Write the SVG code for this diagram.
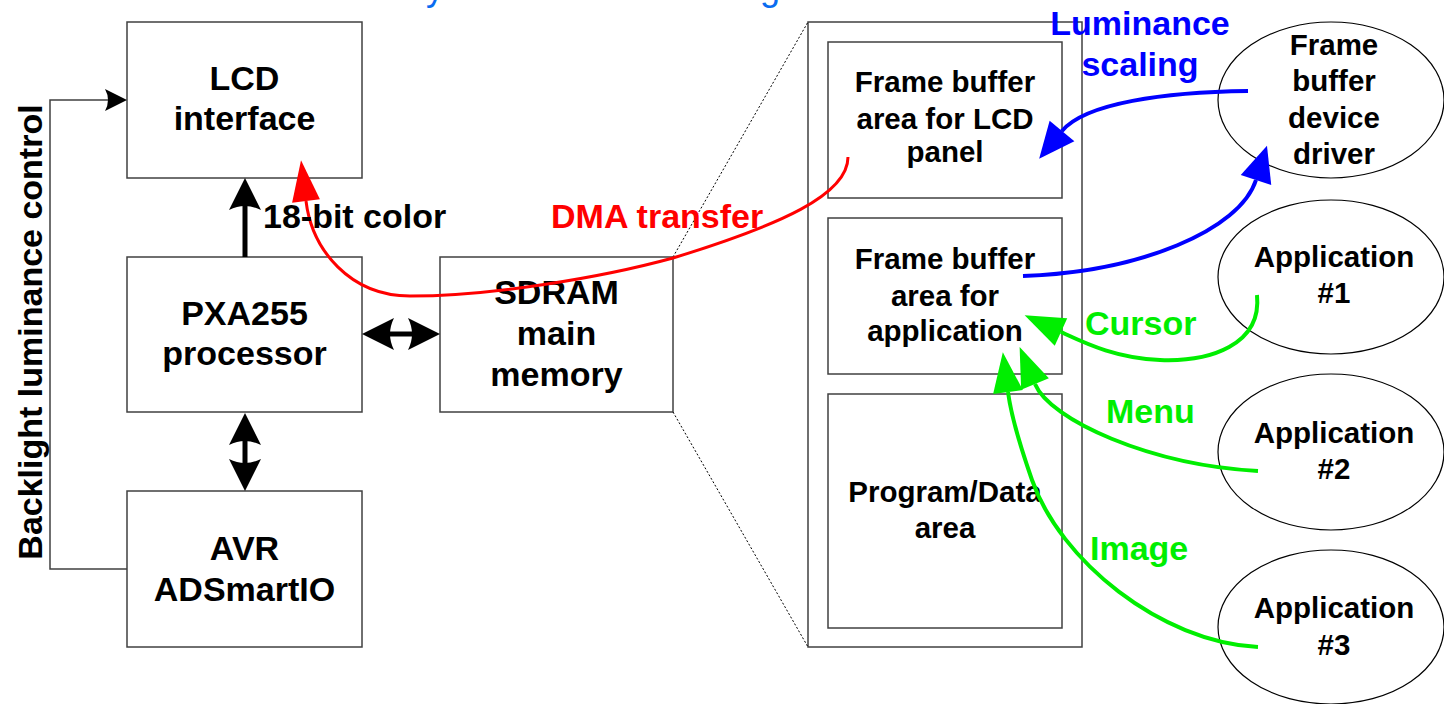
<svg xmlns="http://www.w3.org/2000/svg" width="1444" height="704" viewBox="0 0 1444 704">
<style>
.box{fill:#fff;stroke:#404040;stroke-width:1.5}
.ell{fill:#fff;stroke:#000;stroke-width:1.2}
.t{font-family:"Liberation Sans",Arial,sans-serif;font-weight:bold;text-anchor:middle;fill:#000}
.tl{font-size:34px}
.tr{font-size:29.5px}
.lab{font-family:"Liberation Sans",Arial,sans-serif;font-weight:bold;font-size:34px}
.red{fill:#ff0000}
.blue{fill:#0000ff}
.green{fill:#00ee00}
.title{font-family:"Liberation Sans",Arial,sans-serif;font-size:36px;fill:#0a6cf0}
.thick{fill:none;stroke:#000;stroke-width:5}
.thin{fill:none;stroke:#404040;stroke-width:1.5}
.dot{fill:none;stroke:#000;stroke-width:1;stroke-dasharray:2,2}
.cr{fill:none;stroke:#ff0000;stroke-width:3}
.cb{fill:none;stroke:#0000ff;stroke-width:4}
.cg{fill:none;stroke:#00ee00;stroke-width:4}
</style>
<defs>
<marker id="hk" markerUnits="userSpaceOnUse" markerWidth="40" markerHeight="40" refX="6" refY="16" orient="auto-start-reverse" overflow="visible">
<path d="M0,0 L32,16 L0,32 Q8,16 0,0 Z" fill="#000"/>
</marker>
<marker id="hs" markerUnits="userSpaceOnUse" markerWidth="30" markerHeight="30" refX="4" refY="11" orient="auto" overflow="visible">
<path d="M0,0 L22,11 L0,22 Q6,11 0,0 Z" fill="#000"/>
</marker>
<marker id="hr" markerUnits="userSpaceOnUse" markerWidth="50" markerHeight="40" refX="0" refY="14" orient="auto" overflow="visible">
<path d="M0,0 L41,14 L0,28 Z" fill="#ff0000"/>
</marker>
<marker id="hb" markerUnits="userSpaceOnUse" markerWidth="50" markerHeight="40" refX="0" refY="16" orient="auto" overflow="visible">
<path d="M0,0 L36,16 L0,32 Z" fill="#0000ff"/>
</marker>
<marker id="hg" markerUnits="userSpaceOnUse" markerWidth="50" markerHeight="40" refX="0" refY="15" orient="auto" overflow="visible">
<path d="M0,0 L40,15 L0,30 Z" fill="#00ee00"/>
</marker>
</defs>
<rect width="1444" height="704" fill="#fff"/>
<g id="title">
<text class="title" x="426" y="0">y</text>
<text class="title" x="760" y="0">g</text>
</g>
<g id="mem-outer"><rect class="box" x="808" y="22" width="274" height="625"/></g>
<g id="lcd"><rect class="box" x="127" y="22" width="235" height="156"/>
<text class="t tl" x="244.5" y="90">LCD</text><text class="t tl" x="244.5" y="130">interface</text></g>
<g id="pxa"><rect class="box" x="127" y="257" width="235" height="155"/>
<text class="t tl" x="244.5" y="325">PXA255</text><text class="t tl" x="244.5" y="365">processor</text></g>
<g id="avr"><rect class="box" x="127" y="491" width="235" height="156"/>
<text class="t tl" x="244.5" y="560">AVR</text><text class="t tl" x="244.5" y="601">ADSmartIO</text></g>
<g id="sdram"><rect class="box" x="440" y="257" width="233" height="155"/>
<text class="t tl" x="556.5" y="304">SDRAM</text><text class="t tl" x="556.5" y="345">main</text><text class="t tl" x="556.5" y="386">memory</text></g>
<g id="fb-lcd"><rect class="box" x="828" y="42" width="234" height="156"/>
<text class="t tr" x="945" y="92">Frame buffer</text><text class="t tr" x="945" y="129">area for LCD</text><text class="t tr" x="945" y="162">panel</text></g>
<g id="fb-app"><rect class="box" x="828" y="218" width="234" height="156"/>
<text class="t tr" x="945" y="269">Frame buffer</text><text class="t tr" x="945" y="306">area for</text><text class="t tr" x="945" y="341">application</text></g>
<g id="prog"><rect class="box" x="828" y="394" width="234" height="234"/>
<text class="t tr" x="945" y="502">Program/Data</text><text class="t tr" x="945" y="538">area</text></g>
<g id="drv"><ellipse class="ell" cx="1331" cy="100" rx="113" ry="78"/>
<text class="t tr" x="1334" y="55">Frame</text><text class="t tr" x="1334" y="91">buffer</text><text class="t tr" x="1334" y="128">device</text><text class="t tr" x="1334" y="164">driver</text></g>
<g id="app1"><ellipse class="ell" cx="1331" cy="277" rx="113" ry="77"/>
<text class="t tr" x="1334" y="267">Application</text><text class="t tr" x="1334" y="303">#1</text></g>
<g id="app2"><ellipse class="ell" cx="1331" cy="452" rx="113" ry="78"/>
<text class="t tr" x="1334" y="443">Application</text><text class="t tr" x="1334" y="479">#2</text></g>
<g id="app3"><ellipse class="ell" cx="1331" cy="627" rx="113" ry="77"/>
<text class="t tr" x="1334" y="618">Application</text><text class="t tr" x="1334" y="655">#3</text></g>
<g id="connectors">
<path class="thin" d="M127,569 L50,569 L50,100 L109,100" marker-end="url(#hs)"/>
<path class="thick" d="M245,257 L245,204" marker-end="url(#hk)"/>
<path class="thick" d="M388,334 L414,334" marker-start="url(#hk)" marker-end="url(#hk)"/>
<path class="thick" d="M245,439 L245,465" marker-start="url(#hk)" marker-end="url(#hk)"/>
<path class="dot" d="M673,257 L808,22"/>
<path class="dot" d="M673,412 L808,647"/>
<path class="cr" d="M848,157 C848,195 780,225 673,258 C600,278 490,296 410,296 C350,296 312,250 306,201" marker-end="url(#hr)"/>
<path class="cb" d="M1248,91 C1165,92 1085,103 1062,131" marker-end="url(#hb)"/>
<path class="cb" d="M1023,276 C1140,272 1240,230 1256,180" marker-end="url(#hb)"/>
<path class="cg" d="M1257,295 C1262,345 1210,362 1160,360 C1115,358 1085,343 1061,332" marker-end="url(#hg)"/>
<path class="cg" d="M1258,471 C1150,465 1050,420 1035,384" marker-end="url(#hg)"/>
<path class="cg" d="M1258,647 C1160,642 1060,560 1032,480 C1018,440 1011,415 1008,392" marker-end="url(#hg)"/>
</g>
<g id="labels">
<text class="lab" x="42" y="332" text-anchor="middle" font-size="34.5" transform="rotate(-90 42 332)">Backlight luminance control</text>
<text class="lab" x="263" y="228">18-bit color</text>
<text class="lab red" x="551" y="228">DMA transfer</text>
<text class="lab blue" x="1140" y="35" text-anchor="middle">Luminance</text>
<text class="lab blue" x="1140" y="76" text-anchor="middle">scaling</text>
<text class="lab green" x="1085" y="335">Cursor</text>
<text class="lab green" x="1106" y="423">Menu</text>
<text class="lab green" x="1090" y="560">Image</text>
</g>
</svg>
